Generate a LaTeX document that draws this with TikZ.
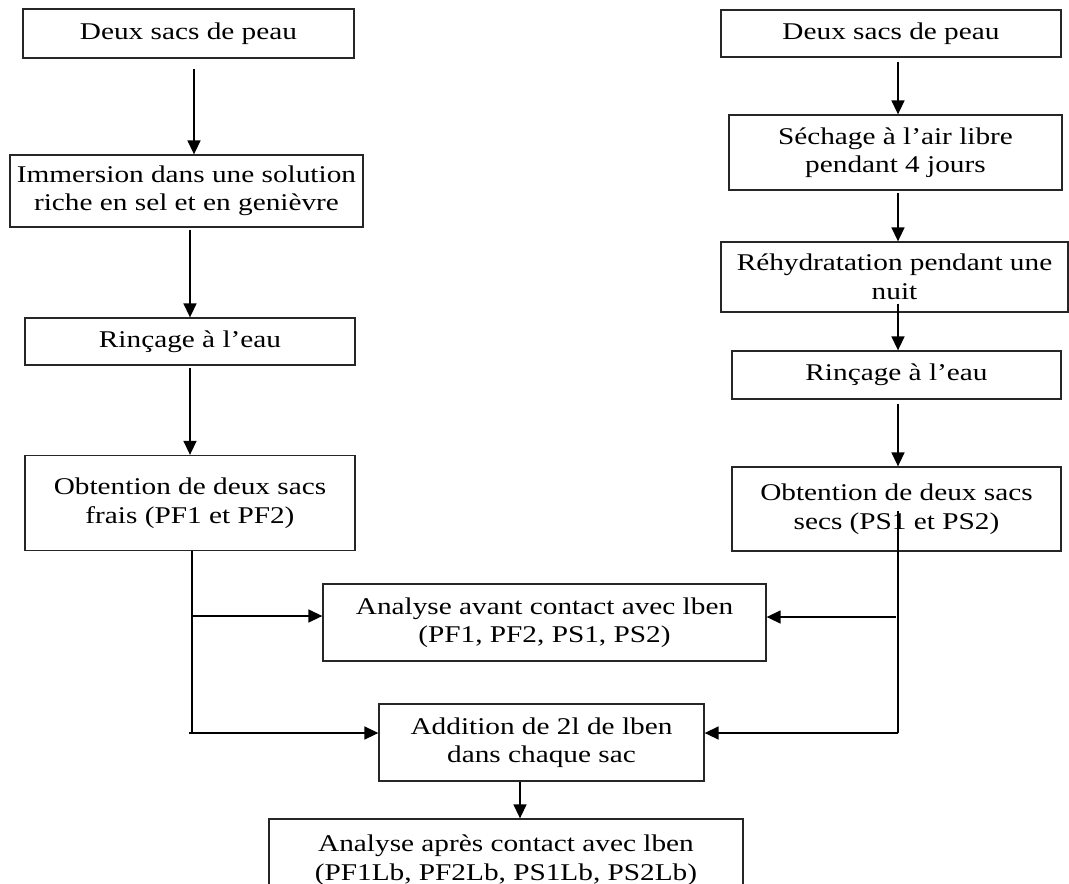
\documentclass[tikz,border=0pt]{standalone}
\usepackage{fontspec}
\setmainfont{Liberation Serif}[FakeStretch=1.22]
\usepackage{tikz}
\usetikzlibrary{arrows.meta,positioning,calc}

\begin{document}
\begin{tikzpicture}[
  x=1pt,y=-1pt,
  font=\fontsize{24}{28.5}\selectfont,
  box/.style={draw=black!85, line width=1.3pt, align=center, inner sep=0pt},
  arrow/.style={-{Triangle[length=14pt,width=13pt]}, line width=1.5pt},
  trunk/.style={line width=2.2pt}
]
\useasboundingbox (0,0) rectangle (1069,884);

% Peaux fraiches (left column)
\node[box, minimum width=331, minimum height=49] (lsacs) at (188.5,33.5) {Deux sacs de peau};
\node[box, minimum width=353, minimum height=72] (limm) at (186.5,191) {Immersion dans une solution\\riche en sel et en genièvre};
\node[box, minimum width=330, minimum height=47] (lrinc) at (190,341.5) {Rinçage à l’eau};
\node[box, minimum width=330, minimum height=95] (lfrais) at (190,503) {Obtention de deux sacs\\frais (PF1 et PF2)};

% Peaux seches (right column)
\node[box, minimum width=340, minimum height=47] (rsacs) at (891,33.5) {Deux sacs de peau};
\node[box, minimum width=333, minimum height=75] (rsech) at (895.5,152.5) {Séchage à l’air libre\\pendant 4 jours};
\node[box, minimum width=347, minimum height=70] (rrehy) at (894.5,277) {Réhydratation pendant une\\nuit};
\node[box, minimum width=329, minimum height=48] (rrinc) at (896.5,375) {Rinçage à l’eau};
\node[box, minimum width=329, minimum height=84] (rsecs) at (896.5,509) {Obtention de deux sacs\\secs (PS1 et PS2)};

% Analyses
\node[box, minimum width=443, minimum height=77] (avant) at (544.5,622.5) {Analyse avant contact avec lben\\(PF1, PF2, PS1, PS2)};
\node[box, minimum width=325, minimum height=77] (addi) at (541.5,742.5) {Addition de 2l de lben\\dans chaque sac};
\node[box, minimum width=474, minimum height=82] (apres) at (506,860) {Analyse après contact avec lben\\(PF1Lb, PF2Lb, PS1Lb, PS2Lb)};

\draw[arrow] ([yshift=-10]lsacs.south -| 194,0) -- (limm.north -| 194,0);
\draw[arrow] ([yshift=-2]limm.south -| 190,0) -- (lrinc.north -| 190,0);
\draw[arrow] ([yshift=-2]lrinc.south -| 190,0) -- (lfrais.north -| 190,0);

\draw[arrow] ([yshift=-4]rsacs.south -| 898,0) -- (rsech.north -| 898,0);
\draw[arrow] ([yshift=-2]rsech.south -| 898,0) -- (rrehy.north -| 898,0);
\draw[arrow] ([yshift=9]rrehy.south -| 898,0) -- (rrinc.north -| 898,0);
\draw[arrow] ([yshift=-4]rrinc.south -| 898,0) -- (rsecs.north -| 898,0);

% Branchements vers les analyses
\coordinate (lhaut) at (192,616);
\coordinate (lbas) at (192,733);
\coordinate (rhaut) at (898,617);
\coordinate (rbas) at (898,733);
\draw[trunk] (lfrais.south -| lbas) -- (lbas);
\draw[trunk] ([yshift=41]rsecs.south -| rbas) -- (rbas);
\draw[arrow] (lhaut) -- (lhaut -| avant.west);
\draw[arrow] ([xshift=-3]lbas) -- (lbas -| addi.west);
\draw[arrow] ([xshift=-2]rhaut) -- (rhaut -| avant.east);
\draw[arrow] (rbas) -- (rbas -| addi.east);
\draw[arrow] (addi.south -| 520,0) -- (apres.north -| 520,0);
\end{tikzpicture}
\end{document}
